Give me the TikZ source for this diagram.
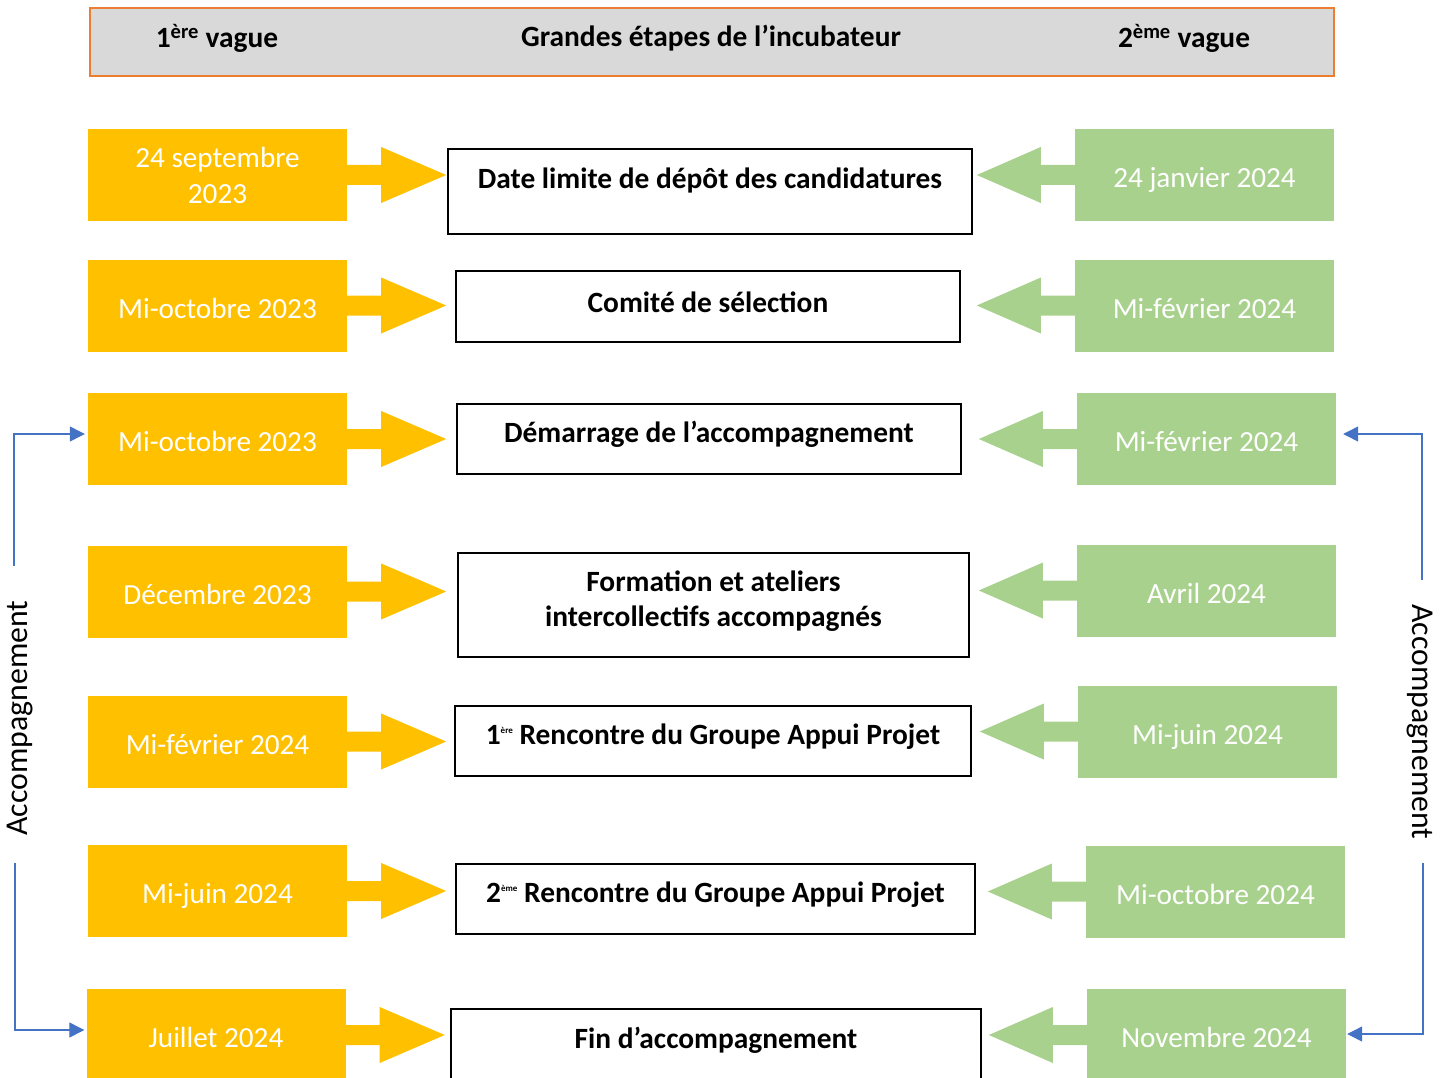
\documentclass[tikz,border=0pt]{standalone}
\usepackage{fontspec}
\setmainfont{Carlito}
\usetikzlibrary{arrows.meta,calc}
\definecolor{ygold}{HTML}{FFC000}
\definecolor{ggreen}{HTML}{A9D18E}
\definecolor{hgray}{HTML}{D9D9D9}
\definecolor{horange}{HTML}{ED7D31}
\definecolor{cblue}{HTML}{4472C4}
\newcommand\tinysup[1]{\raisebox{11pt}{\fontsize{9}{9}\selectfont #1}}
\newcommand\rarr[1]{\fill[yarr] (#1.east) ++(0,-10) -- ++(34,0) -- ++(0,-18) -- ++(65,28) -- ++(-65,28) -- ++(0,-18) -- ++(-34,0) -- cycle;}
\newcommand\larr[1]{\fill[garr] (#1.west) ++(0,-10) -- ++(-34,0) -- ++(0,-18) -- ++(-64,28) -- ++(64,28) -- ++(0,-18) -- ++(34,0) -- cycle;}
\begin{document}
\begin{tikzpicture}[x=1pt,y=-1pt,
  ybox/.style={fill=ygold,draw=none,minimum width=259pt,minimum height=92pt,inner sep=0pt,text=white,font=\fontsize{29.2}{36}\selectfont,align=center},
  gbox/.style={fill=ggreen,draw=none,minimum width=259pt,minimum height=92pt,inner sep=0pt,text=white,font=\fontsize{29.2}{36}\selectfont,align=center},
  oneline/.style={text height=25pt,text depth=0pt},
  mbox/.style={draw=black,line width=1.2pt,fill=white,inner sep=0pt},
  mtext/.style={font=\bfseries\fontsize{29.4}{35}\selectfont,align=center,inner sep=0pt},
  htext/.style={font=\bfseries\fontsize{29.4}{33}\selectfont,inner sep=0pt},
  yarr/.style={fill=ygold,draw=none},
  garr/.style={fill=ggreen,draw=none},
  blueline/.style={draw=cblue,line width=1.3pt,-{Triangle[length=15pt,width=15pt]}},
  sidetext/.style={font=\fontsize{31.8}{36}\selectfont,inner sep=0pt}]
\useasboundingbox (0,0) rectangle (1450,1078);
% header
\node[fill=hgray,draw=horange,line width=1.3pt,minimum width=1244pt,minimum height=68pt,inner sep=0pt] (hdr) at (712,42) {};
\node[htext] (h1) at (217,38) {1\textsuperscript{ère} vague};
\node[htext] (h2) at (711,38) {Grandes étapes de l’incubateur};
\node[htext] (h3) at (1184,38) {2\textsuperscript{ème} vague};
% row 1
\node[ybox] (y1) at (217.5,175) {24 septembre\\2023};
\node[mbox,minimum width=524pt,minimum height=85pt] (m1) at (710,191.5) {};
\node[mtext] (t1) at (710,180) {Date limite de dépôt des candidatures};
\node[gbox,oneline] (g1) at (1204.5,175) {24 janvier 2024};
% row 2
\node[ybox,oneline] (y2) at (217.5,305.5) {Mi-octobre 2023};
\node[mbox,minimum width=504pt,minimum height=71pt] (m2) at (708,306.5) {};
\node[mtext] (t2) at (708,302) {Comité de sélection};
\node[gbox,oneline] (g2) at (1204.5,305.5) {Mi-février 2024};
% row 3
\node[ybox,oneline] (y3) at (217.5,439) {Mi-octobre 2023};
\node[mbox,minimum width=504pt,minimum height=70pt] (m3) at (709,439) {};
\node[mtext] (t3) at (709,434) {Démarrage de l’accompagnement};
\node[gbox,oneline] (g3) at (1206.5,439) {Mi-février 2024};
% row 4
\node[ybox,oneline] (y4) at (217.5,591.5) {Décembre 2023};
\node[mbox,minimum width=511pt,minimum height=104pt] (m4) at (713.5,605) {};
\node[mtext] (t4) at (713.5,601.5) {Formation et ateliers\\intercollectifs accompagnés};
\node[gbox,oneline] (g4) at (1206.5,590.5) {Avril 2024};
% row 5
\node[ybox,oneline] (y5) at (217.5,741.5) {Mi-février 2024};
\node[mbox,minimum width=516pt,minimum height=70pt] (m5) at (713,741) {};
\node[mtext] (t5) at (713,737) {1\tinysup{ère} Rencontre du Groupe Appui Projet};
\node[gbox,oneline] (g5) at (1207.5,731.5) {Mi-juin 2024};
% row 6
\node[ybox,oneline] (y6) at (217.5,891) {Mi-juin 2024};
\node[mbox,minimum width=519pt,minimum height=70pt] (m6) at (715.5,899) {};
\node[mtext] (t6) at (715.5,895) {2\tinysup{ème} Rencontre du Groupe Appui Projet};
\node[gbox,oneline] (g6) at (1215.5,891.5) {Mi-octobre 2024};
% row 7
\node[ybox,oneline] (y7) at (216,1035) {Juillet 2024};
\node[mbox,minimum width=530pt,minimum height=81pt] (m7) at (716,1049.5) {};
\node[mtext] (t7) at (716,1040) {Fin d’accompagnement};
\node[gbox,oneline] (g7) at (1216.5,1035) {Novembre 2024};
% block arrows
\rarr{y1}\rarr{y2}\rarr{y3}\rarr{y4}\rarr{y5}\rarr{y6}\rarr{y7}
\larr{g1}\larr{g2}\larr{g3}\larr{g4}\larr{g5}\larr{g6}\larr{g7}
% side labels
\node[sidetext,rotate=90] (sl) at (20,718) {Accompagnement};
\node[sidetext,rotate=-90] (sr) at (1420,722) {Accompagnement};
% blue connectors
\coordinate (lt) at (14,566);
\coordinate (lb) at (15,863);
\coordinate (rt) at (1422,580);
\coordinate (rb) at (1423,863);
\draw[blueline] (lt) |- ($(y3.west)+(-3,-5)$);
\draw[blueline] (lb) |- ($(y7.west)+(-2,-5)$);
\draw[blueline] (rt) |- ($(g3.east)+(7,-5)$);
\draw[blueline] (rb) |- ($(g7.east)+(1,-1)$);
\end{tikzpicture}
\end{document}
